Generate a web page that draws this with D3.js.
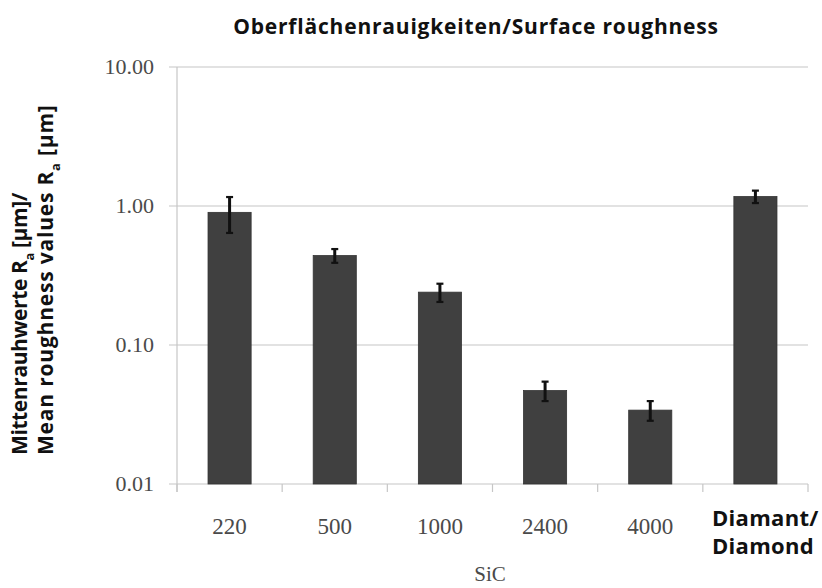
<!DOCTYPE html>
<html>
<meta charset="utf-8" />
<title>Surface roughness</title>
<head>
    <script src="https://d3js.org/d3.v7.min.js"></script>
    <style>
        body { margin: 0; background: #fff; }
        .serif { font-family: "Liberation Serif", "DejaVu Serif", serif; }
        .sans { font-family: "Open Sans", "DejaVu Sans", sans-serif; font-weight: 700; }
    </style>
</head>
<body>
    <div id="chart"></div>
    <script type="text/javascript">
        // grit sizes of the SiC paper, last one is the diamond polish
        var categories = ["220", "500", "1000", "2400", "4000", "Diamant/Diamond"];
        var values = [0.90, 0.44, 0.24, 0.047, 0.034, 1.17];
        var errors = [0.26, 0.05, 0.036, 0.0075, 0.0055, 0.12];
        var yTicks = [0.01, 0.1, 1, 10];
        var diamondLines = ["Diamant/", "Diamond"];

        const width = 822, height = 588;
        const plotLeft = 177, plotRight = 808, plotTop = 67, plotBottom = 484;

        var svg = d3.select("#chart").append("svg")
            .attr("width", width)
            .attr("height", height);

        var x = d3.scaleBand()
            .domain(categories)
            .range([plotLeft, plotRight])
            .paddingInner(0.59)
            .paddingOuter(0.295);

        var y = d3.scaleLog()
            .domain([0.01, 10])
            .range([plotBottom, plotTop]);

        var fmt = d3.format(".2f");

        // horizontal grid + left ticks
        svg.selectAll("line.grid")
            .data(yTicks)
            .enter()
            .append("line")
            .attr("class", "grid")
            .attr("x1", plotLeft - 8)
            .attr("x2", plotRight)
            .attr("y1", d => y(d))
            .attr("y2", d => y(d))
            .attr("stroke", "#c6c6c6")
            .attr("stroke-width", 1.2);

        svg.selectAll("text.ytick")
            .data(yTicks)
            .enter()
            .append("text")
            .attr("class", "ytick serif")
            .attr("x", plotLeft - 23)
            .attr("y", d => y(d) + 7)
            .attr("text-anchor", "end")
            .attr("font-size", "22px")
            .attr("fill", "#4a4a4a")
            .text(d => fmt(d));

        // y axis line
        svg.append("line")
            .attr("x1", plotLeft).attr("x2", plotLeft)
            .attr("y1", plotTop).attr("y2", plotBottom + 8)
            .attr("stroke", "#c6c6c6")
            .attr("stroke-width", 1.2);

        // category boundary ticks
        var bounds = categories.map(c => x(c) - x.step() * x.paddingInner() / 2).concat([plotRight]);
        bounds[0] = plotLeft;
        svg.selectAll("line.xtick")
            .data(bounds)
            .enter()
            .append("line")
            .attr("x1", d => d).attr("x2", d => d)
            .attr("y1", plotBottom).attr("y2", plotBottom + 8)
            .attr("stroke", "#c6c6c6")
            .attr("stroke-width", 1.2);

        // bars
        svg.selectAll("rect.bar")
            .data(values)
            .enter()
            .append("rect")
            .attr("class", "bar")
            .attr("x", (d, i) => x(categories[i]))
            .attr("y", d => y(d))
            .attr("width", x.bandwidth())
            .attr("height", d => plotBottom - y(d))
            .attr("fill", "#404040")
            .attr("stroke", "#333")
            .attr("stroke-width", 0.8);

        // error bars
        var eb = svg.selectAll("g.err")
            .data(values)
            .enter()
            .append("g")
            .attr("transform", (d, i) => "translate(" + (x(categories[i]) + x.bandwidth() / 2) + ",0)");
        eb.append("line")
            .attr("y1", (d, i) => y(d + errors[i]))
            .attr("y2", (d, i) => y(d - errors[i]))
            .attr("stroke", "#111")
            .attr("stroke-width", 3);
        eb.append("line")
            .attr("x1", -3.5).attr("x2", 3.5)
            .attr("y1", (d, i) => y(d + errors[i]))
            .attr("y2", (d, i) => y(d + errors[i]))
            .attr("stroke", "#111")
            .attr("stroke-width", 2.2);
        eb.append("line")
            .attr("x1", -3.5).attr("x2", 3.5)
            .attr("y1", (d, i) => y(d - errors[i]))
            .attr("y2", (d, i) => y(d - errors[i]))
            .attr("stroke", "#111")
            .attr("stroke-width", 2.2);

        // x labels (SiC grits)
        svg.selectAll("text.xlab")
            .data(categories.slice(0, 5))
            .enter()
            .append("text")
            .attr("class", "xlab serif")
            .attr("x", d => x(d) + x.bandwidth() / 2)
            .attr("y", 534)
            .attr("text-anchor", "middle")
            .attr("font-size", "23px")
            .attr("fill", "#4a4a4a")
            .text(d => d);

        svg.append("text")
            .attr("class", "serif")
            .attr("x", 490)
            .attr("y", 581)
            .attr("text-anchor", "middle")
            .attr("font-size", "21px")
            .attr("fill", "#4a4a4a")
            .text("SiC");

        svg.selectAll("text.dia")
            .data(diamondLines)
            .enter()
            .append("text")
            .attr("class", "dia sans")
            .attr("x", 712)
            .attr("y", (d, i) => 526 + i * 28)
            .attr("font-size", "22px")
            .attr("letter-spacing", "0.3px")
            .attr("fill", "#111")
            .text(d => d);

        // title
        svg.append("text")
            .attr("class", "sans")
            .attr("x", 476)
            .attr("y", 34)
            .attr("text-anchor", "middle")
            .attr("font-size", "21px")
            .attr("letter-spacing", "0.8px")
            .attr("fill", "#111")
            .text("Oberflächenrauigkeiten/Surface roughness");

        // y label, two rotated lines with R_a subscript
        var ylab = svg.append("text")
            .attr("class", "sans")
            .attr("transform", "translate(27,455) rotate(-90)")
            .attr("font-size", "21px")
            .attr("fill", "#111");
        var l1 = ylab.append("tspan").attr("x", 0).attr("y", 0).attr("letter-spacing", "-0.4px");
        l1.append("tspan").text("Mittenrauhwerte R");
        l1.append("tspan").attr("font-size", "13px").attr("dy", 7).text("a");
        l1.append("tspan").attr("dy", -7).text(" [µm]/");
        var l2 = ylab.append("tspan").attr("x", 0).attr("y", 26).attr("letter-spacing", "0.8px");
        l2.append("tspan").text("Mean roughness values R");
        l2.append("tspan").attr("font-size", "13px").attr("dy", 7).text("a");
        l2.append("tspan").attr("dy", -7).text(" [µm]");
    </script>
</body>
</html>
